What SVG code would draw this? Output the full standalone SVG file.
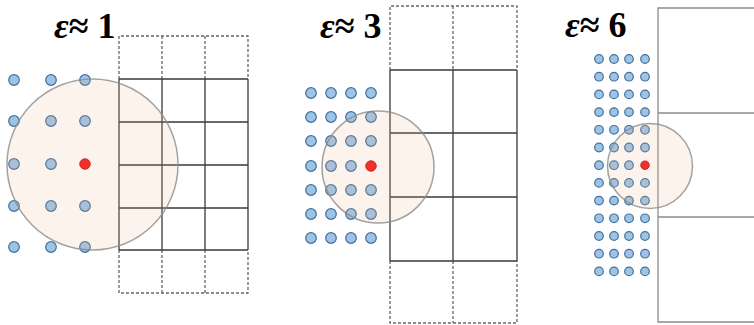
<svg xmlns="http://www.w3.org/2000/svg" width="754" height="325" viewBox="0 0 754 325">
<style>
.lbl{font-family:"Liberation Serif","Times New Roman",serif;font-weight:bold;font-size:36px;fill:#000}
.eps{font-style:italic}
.solid{stroke:#3a3a3a;stroke-width:1.3;fill:none}
.dash{stroke:#666;stroke-width:1.3;fill:none;stroke-dasharray:3 2}
.gray{stroke:#8c8c8c;stroke-width:1.3;fill:none}
.dot{fill:#9dc3e6;stroke:#41719c;stroke-width:1.2}
.red{fill:#ee1c1c;stroke:#c00000;stroke-width:0.8}
.ring{fill:#f4b183;fill-opacity:0.15;stroke:#8c8c8c;stroke-opacity:0.8;stroke-width:1.5}
</style>
<rect width="754" height="325" fill="#fff"/>

<g id="panel1">
  <text class="lbl" x="54" y="38"><tspan class="eps">ε</tspan>≈ 1</text>
  <g id="grid1">
    <path class="dash" d="M119,79V36H248V79M162,36V79M205,36V79M119,250V293H248V250M162,250V293M205,250V293"/>
    <path class="solid" d="M119,79H248M119,122H248M119,165H248M119,208H248M119,250H248M119,79V250M162,79V250M205,79V250M248,79V250"/>
  </g>
  <g id="dots1">
    <circle class="dot" cx="14" cy="80" r="5.3"/><circle class="dot" cx="51" cy="80" r="5.3"/><circle class="dot" cx="85" cy="80" r="5.3"/>
    <circle class="dot" cx="14" cy="121" r="5.3"/><circle class="dot" cx="51" cy="121" r="5.3"/><circle class="dot" cx="85" cy="121" r="5.3"/>
    <circle class="dot" cx="14" cy="164" r="5.3"/><circle class="dot" cx="51" cy="164" r="5.3"/><circle class="red" cx="85" cy="164" r="5.3"/>
    <circle class="dot" cx="14" cy="206" r="5.3"/><circle class="dot" cx="51" cy="206" r="5.3"/><circle class="dot" cx="85" cy="206" r="5.3"/>
    <circle class="dot" cx="14" cy="247" r="5.3"/><circle class="dot" cx="51" cy="247" r="5.3"/><circle class="dot" cx="85" cy="247" r="5.3"/>
  </g>
  <circle id="ring1" class="ring" cx="92.5" cy="164.5" r="85.5"/>
</g>

<g id="panel2">
  <text class="lbl" x="320" y="38"><tspan class="eps">ε</tspan>≈ 3</text>
  <g id="grid2">
    <path class="dash" d="M390,70V6H517V70M453,6V70M390,261V323H517V261M453,261V323"/>
    <path class="solid" d="M390,70H517M390,133H517M390,197H517M390,261H517M390,70V261M453,70V261M517,70V261"/>
  </g>
  <g id="dots2">
    <circle class="dot" cx="311" cy="93" r="5.3"/><circle class="dot" cx="331" cy="93" r="5.3"/><circle class="dot" cx="351" cy="93" r="5.3"/><circle class="dot" cx="371" cy="93" r="5.3"/>
    <circle class="dot" cx="311" cy="117" r="5.3"/><circle class="dot" cx="331" cy="117" r="5.3"/><circle class="dot" cx="351" cy="117" r="5.3"/><circle class="dot" cx="371" cy="117" r="5.3"/>
    <circle class="dot" cx="311" cy="141" r="5.3"/><circle class="dot" cx="331" cy="141" r="5.3"/><circle class="dot" cx="351" cy="141" r="5.3"/><circle class="dot" cx="371" cy="141" r="5.3"/>
    <circle class="dot" cx="311" cy="166" r="5.3"/><circle class="dot" cx="331" cy="166" r="5.3"/><circle class="dot" cx="351" cy="166" r="5.3"/><circle class="red" cx="371" cy="166" r="5.3"/>
    <circle class="dot" cx="311" cy="190" r="5.3"/><circle class="dot" cx="331" cy="190" r="5.3"/><circle class="dot" cx="351" cy="190" r="5.3"/><circle class="dot" cx="371" cy="190" r="5.3"/>
    <circle class="dot" cx="311" cy="214" r="5.3"/><circle class="dot" cx="331" cy="214" r="5.3"/><circle class="dot" cx="351" cy="214" r="5.3"/><circle class="dot" cx="371" cy="214" r="5.3"/>
    <circle class="dot" cx="311" cy="238" r="5.3"/><circle class="dot" cx="331" cy="238" r="5.3"/><circle class="dot" cx="351" cy="238" r="5.3"/><circle class="dot" cx="371" cy="238" r="5.3"/>
  </g>
  <circle id="ring2" class="ring" cx="378" cy="167" r="56"/>
</g>

<g id="panel3">
  <text class="lbl" x="565" y="37"><tspan class="eps">ε</tspan>≈ 6</text>
  <g id="grid3">
    <path class="gray" d="M760,8H658V322H760M658,113H760M658,217H760"/>
  </g>
  <g id="dots3">
    <circle class="dot" cx="599" cy="59" r="4.3"/><circle class="dot" cx="614" cy="59" r="4.3"/><circle class="dot" cx="629" cy="59" r="4.3"/><circle class="dot" cx="645" cy="59" r="4.3"/>
    <circle class="dot" cx="599" cy="76.7" r="4.3"/><circle class="dot" cx="614" cy="76.7" r="4.3"/><circle class="dot" cx="629" cy="76.7" r="4.3"/><circle class="dot" cx="645" cy="76.7" r="4.3"/>
    <circle class="dot" cx="599" cy="94.4" r="4.3"/><circle class="dot" cx="614" cy="94.4" r="4.3"/><circle class="dot" cx="629" cy="94.4" r="4.3"/><circle class="dot" cx="645" cy="94.4" r="4.3"/>
    <circle class="dot" cx="599" cy="112.1" r="4.3"/><circle class="dot" cx="614" cy="112.1" r="4.3"/><circle class="dot" cx="629" cy="112.1" r="4.3"/><circle class="dot" cx="645" cy="112.1" r="4.3"/>
    <circle class="dot" cx="599" cy="129.8" r="4.3"/><circle class="dot" cx="614" cy="129.8" r="4.3"/><circle class="dot" cx="629" cy="129.8" r="4.3"/><circle class="dot" cx="645" cy="129.8" r="4.3"/>
    <circle class="dot" cx="599" cy="147.5" r="4.3"/><circle class="dot" cx="614" cy="147.5" r="4.3"/><circle class="dot" cx="629" cy="147.5" r="4.3"/><circle class="dot" cx="645" cy="147.5" r="4.3"/>
    <circle class="dot" cx="599" cy="165.2" r="4.3"/><circle class="dot" cx="614" cy="165.2" r="4.3"/><circle class="dot" cx="629" cy="165.2" r="4.3"/><circle class="red" cx="645" cy="165.2" r="4.3"/>
    <circle class="dot" cx="599" cy="182.9" r="4.3"/><circle class="dot" cx="614" cy="182.9" r="4.3"/><circle class="dot" cx="629" cy="182.9" r="4.3"/><circle class="dot" cx="645" cy="182.9" r="4.3"/>
    <circle class="dot" cx="599" cy="200.6" r="4.3"/><circle class="dot" cx="614" cy="200.6" r="4.3"/><circle class="dot" cx="629" cy="200.6" r="4.3"/><circle class="dot" cx="645" cy="200.6" r="4.3"/>
    <circle class="dot" cx="599" cy="218.3" r="4.3"/><circle class="dot" cx="614" cy="218.3" r="4.3"/><circle class="dot" cx="629" cy="218.3" r="4.3"/><circle class="dot" cx="645" cy="218.3" r="4.3"/>
    <circle class="dot" cx="599" cy="236" r="4.3"/><circle class="dot" cx="614" cy="236" r="4.3"/><circle class="dot" cx="629" cy="236" r="4.3"/><circle class="dot" cx="645" cy="236" r="4.3"/>
    <circle class="dot" cx="599" cy="253.7" r="4.3"/><circle class="dot" cx="614" cy="253.7" r="4.3"/><circle class="dot" cx="629" cy="253.7" r="4.3"/><circle class="dot" cx="645" cy="253.7" r="4.3"/>
    <circle class="dot" cx="599" cy="271.4" r="4.3"/><circle class="dot" cx="614" cy="271.4" r="4.3"/><circle class="dot" cx="629" cy="271.4" r="4.3"/><circle class="dot" cx="645" cy="271.4" r="4.3"/>
  </g>
  <circle id="ring3" class="ring" cx="650" cy="166" r="42.5"/>
</g>
</svg>
